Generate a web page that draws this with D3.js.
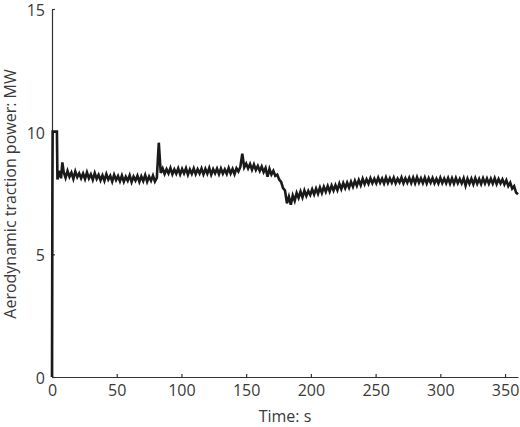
<!DOCTYPE html>
<html>
  <head>
    <script type="text/javascript" src="https://cdn.jsdelivr.net/npm/d3@7/dist/d3.min.js"></script>
    <style>
      body { margin: 0; background: #fff; }
      text { font-family: "Open Sans", sans-serif; fill: #3a3a3a; }
    </style>
  </head>
  <body>
    <script type="text/javascript">
    // start-up transient, read point by point
    var startTimes  = [0, 0.3, 0.5, 3.8, 4.2, 5.5, 7, 8];
    var startPower  = [0, 7.6, 10, 10, 8.05, 8.4, 8.1, 8.75];

    // regularly sampled part, from t = 9 s every 1.5 s
    var sampleStart = 9;
    var sampleStep = 1.5;
    var samplePower = [
        8.36, 8.12, 8.4, 8.16, 8.33, 8.08, 8.38, 8.15, 8.3, 8.1,
        8.29, 8.07, 8.34, 8.1, 8.26, 8.04, 8.31, 8.08, 8.24, 8.02,
        8.22, 8.0, 8.27, 8.05, 8.2, 7.97, 8.24, 8.03, 8.19, 7.98,
        8.21, 7.96, 8.16, 8.0, 8.22, 7.95, 8.17, 8.01, 8.2, 7.96,
        8.18, 7.99, 8.23, 7.96, 8.17, 8.0, 8.21, 7.97, 8.12, 9.55,
        8.32, 8.5, 8.28, 8.47, 8.3, 8.52, 8.27, 8.46, 8.29, 8.5,
        8.26, 8.48, 8.3, 8.51, 8.25, 8.46, 8.28, 8.5, 8.27, 8.47,
        8.3, 8.5, 8.26, 8.48, 8.29, 8.52, 8.25, 8.47, 8.3, 8.49,
        8.27, 8.5, 8.29, 8.46, 8.28, 8.52, 8.3, 8.48, 8.27, 8.51,
        8.38, 8.56, 9.1, 8.55, 8.7, 8.5, 8.68, 8.45, 8.66, 8.44,
        8.6, 8.4, 8.58, 8.35, 8.52, 8.16, 8.48, 8.25, 8.4, 8.2,
        8.25, 8.05, 7.95, 7.7, 7.6, 7.08, 7.35, 7.02, 7.4, 7.18,
        7.5, 7.3, 7.56, 7.32, 7.6, 7.38, 7.58, 7.42, 7.65, 7.44,
        7.68, 7.47, 7.72, 7.5, 7.75, 7.55, 7.78, 7.56, 7.8, 7.6,
        7.82, 7.62, 7.88, 7.66, 7.9, 7.7, 7.92, 7.72, 7.96, 7.76,
        8.0, 7.8, 8.03, 7.82, 8.08, 7.86, 8.06, 7.88, 8.1, 7.9,
        8.08, 7.9, 8.12, 7.92, 8.09, 7.89, 8.13, 7.91, 8.1, 7.92,
        8.12, 7.9, 8.08, 7.93, 8.13, 7.9, 8.1, 7.92, 8.12, 7.91,
        8.13, 7.9, 8.14, 7.92, 8.1, 7.9, 8.12, 7.89, 8.1, 7.92,
        8.11, 7.9, 8.08, 7.89, 8.12, 7.91, 8.09, 7.9, 8.11, 7.88,
        8.1, 7.88, 8.11, 7.9, 8.07, 7.89, 8.1, 7.8, 8.08, 7.88,
        8.08, 7.86, 8.1, 7.88, 8.07, 7.87, 8.1, 7.89, 8.09, 7.88,
        8.08, 7.88, 8.1, 7.87, 8.07, 7.89, 8.05, 7.85, 8.02, 7.78,
        7.92, 7.68, 7.78, 7.52, 7.45
    ];

    var xTicks = [0, 50, 100, 150, 200, 250, 300, 350];
    var yTicks = [0, 5, 10, 15];

    var data = [];
    for (var i = 0; i < startTimes.length; i++) {
        data.push({t: startTimes[i], p: startPower[i]});
    }
    for (var j = 0; j < samplePower.length; j++) {
        data.push({t: sampleStart + j * sampleStep, p: samplePower[j]});
    }

    var width = 520, height = 427;
    var svg = d3.select('body').append('svg')
                .attr('width', width)
                .attr('height', height);

    var x = d3.scaleLinear().domain([0, 360]).range([52, 518]);
    var y = d3.scaleLinear().domain([0, 15]).range([377, 9]);

    // x axis, ticks pointing inward
    var gx = svg.append('g')
                .attr('transform', 'translate(0,377)')
                .call(d3.axisBottom(x).tickValues(xTicks).tickSizeInner(-3).tickSizeOuter(0).tickPadding(8));
    // y axis, ticks pointing inward
    var gy = svg.append('g')
                .attr('transform', 'translate(52,0)')
                .call(d3.axisLeft(y).tickValues(yTicks).tickSizeInner(-3).tickSizeOuter(0).tickPadding(7));

    [gx, gy].forEach(function(g) {
        g.select('.domain').attr('stroke', '#333').attr('stroke-width', 1.2);
        g.selectAll('.tick line').attr('stroke', '#333').attr('stroke-width', 1.2);
        g.selectAll('.tick text')
         .attr('font-family', '"Open Sans", sans-serif')
         .attr('font-size', 16)
         .attr('fill', '#3a3a3a');
    });
    // y labels sit a little lower than centre in the original
    gy.selectAll('.tick text').attr('dy', '0.4em');

    var line = d3.line()
                 .x(function(d) { return x(d.t); })
                 .y(function(d) { return y(d.p); });

    svg.append('path')
       .datum(data)
       .attr('d', line)
       .attr('fill', 'none')
       .attr('stroke', '#1a1a1a')
       .attr('stroke-width', 2.6)
       .attr('stroke-linejoin', 'miter');

    svg.append('text')
       .attr('x', 285)
       .attr('y', 422)
       .attr('text-anchor', 'middle')
       .attr('font-size', 16)
       .text('Time: s');

    svg.append('text')
       .attr('transform', 'translate(16,194) rotate(-90)')
       .attr('text-anchor', 'middle')
       .attr('font-size', 16)
       .text('Aerodynamic traction power: MW');
    </script>
  </body>
</html>
